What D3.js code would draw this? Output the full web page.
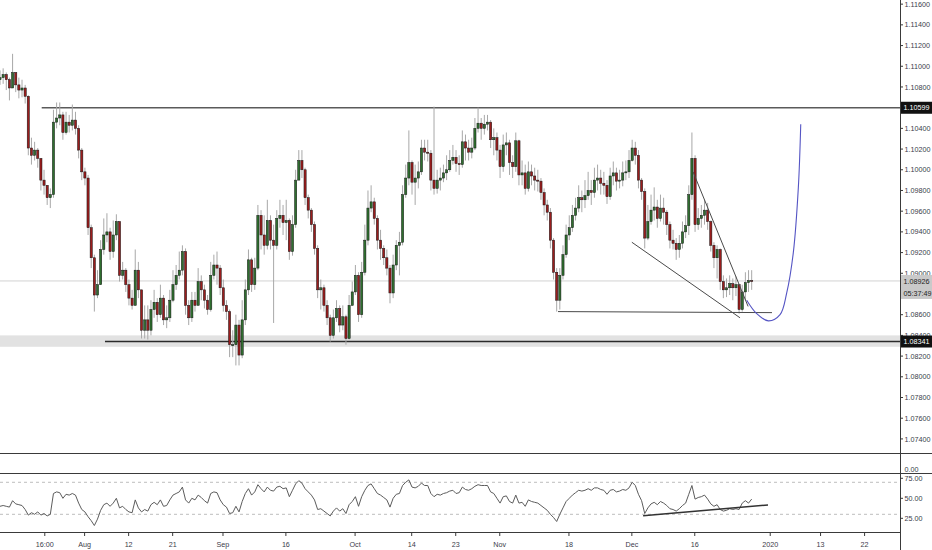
<!DOCTYPE html>
<html><head><meta charset="utf-8">
<script src="https://cdn.jsdelivr.net/npm/d3@7"></script>
<style>html,body{margin:0;padding:0;background:#fff;overflow:hidden}svg{display:block;font-family:"Liberation Sans",Arial,sans-serif}</style>
</head><body><svg id="c" width="932" height="550"></svg>
<script>
// ---- data (EUR/USD-like bars, 2 bars per trading day) ----
const firstOpen = 1.1087;
const closes = [
1.1089,1.1092,1.1087,1.1079,1.1094,1.1082,1.1077,1.1079,1.1071,1.1021,
1.1014,1.1019,1.1011,1.0990,1.0985,1.0973,1.0976,1.1046,1.1050,1.1053,
1.1036,1.1046,1.1043,1.1048,1.1040,1.1019,1.0998,1.0992,1.0944,1.0915,
1.0879,1.0889,1.0923,1.0937,1.0940,1.0921,1.0937,1.0950,1.0898,1.0903,
1.0889,1.0876,1.0869,1.0903,1.0884,1.0845,1.0855,1.0845,1.0865,1.0872,
1.0860,1.0876,1.0855,1.0857,1.0874,1.0889,1.0898,1.0903,1.0921,1.0869,
1.0857,1.0874,1.0869,1.0892,1.0884,1.0874,1.0865,1.0898,1.0908,1.0905,
1.0886,1.0869,1.0863,1.0831,1.0831,1.0850,1.0821,1.0855,1.0884,1.0913,
1.0889,1.0905,1.0956,1.0937,1.0927,1.0951,1.0932,1.0927,1.0953,1.0956,
1.0949,1.0951,1.0921,1.0947,1.0990,1.1009,1.1000,1.0973,1.0961,1.0947,
1.0924,1.0884,1.0886,1.0869,1.0857,1.0840,1.0857,1.0866,1.0850,1.0858,
1.0837,1.0869,1.0882,1.0898,1.0860,1.0901,1.0932,1.0963,1.0969,1.0953,
1.0932,1.0924,1.0915,1.0905,1.0881,1.0908,1.0927,1.0930,1.0976,1.0992,
1.1007,1.0988,1.0992,1.0998,1.1021,1.1017,1.1016,1.0990,1.0982,1.0990,
1.0992,1.0997,1.1000,1.1009,1.1012,1.1006,1.1005,1.1027,1.1021,1.1017,
1.1021,1.1040,1.1045,1.1040,1.1044,1.1046,1.1029,1.1031,1.1019,1.1003,
1.1024,1.1026,1.1007,1.1003,1.1028,1.0995,1.0997,1.0982,1.0998,1.0994,
1.0990,1.0989,1.0978,1.0966,1.0959,1.0932,1.0901,1.0874,1.0898,1.0918,
1.0937,1.0944,1.0956,1.0963,1.0973,1.0971,1.0975,1.0980,1.0978,1.0990,
1.0992,1.0987,1.0985,1.0974,1.0994,1.0997,1.0989,1.0990,1.0997,1.0998,
1.1009,1.1021,1.1014,1.0990,1.0979,1.0934,1.0950,1.0961,1.0964,1.0953,
1.0963,1.0959,1.0947,1.0932,1.0929,1.0923,1.0929,1.0940,1.0946,1.0976,
1.1011,1.0947,1.0953,1.0956,1.0961,1.0950,1.0927,1.0915,1.0923,1.0892,
1.0884,1.0886,1.0890,1.0886,1.0889,1.0865,1.0882,1.0891,1.0893,1.08926];
const highs = [
1.1096,1.1098,1.1094,1.1089,1.1112,1.1093,1.1089,1.1087,1.1082,1.1072,
1.1031,1.1027,1.1021,1.1005,1.1000,1.0985,1.0982,1.1058,1.1065,1.1065,
1.1056,1.1056,1.1053,1.1063,1.1056,1.1043,1.1021,1.1002,1.0995,1.0947,
1.0918,1.0903,1.0932,1.0953,1.0958,1.0944,1.0951,1.0957,1.0950,1.0911,
1.0905,1.0894,1.0884,1.0923,1.0911,1.0884,1.0869,1.0869,1.0874,1.0884,
1.0876,1.0889,1.0879,1.0869,1.0884,1.0903,1.0908,1.0921,1.0927,1.0924,
1.0874,1.0882,1.0882,1.0905,1.0898,1.0889,1.0879,1.0911,1.0918,1.0921,
1.0908,1.0894,1.0874,1.0865,1.0845,1.0860,1.0855,1.0874,1.0894,1.0923,
1.0915,1.0915,1.0966,1.0961,1.0956,1.0971,1.0956,1.0947,1.0961,1.0971,
1.0966,1.0971,1.0953,1.0956,1.1000,1.1019,1.1019,1.1002,1.0976,1.0963,
1.0950,1.0927,1.0894,1.0889,1.0874,1.0860,1.0865,1.0874,1.0869,1.0869,
1.0860,1.0879,1.0892,1.0908,1.0901,1.0911,1.0947,1.0980,1.0985,1.0973,
1.0956,1.0942,1.0927,1.0923,1.0908,1.0918,1.0932,1.0940,1.0985,1.1005,
1.1038,1.1009,1.1005,1.1008,1.1029,1.1029,1.1029,1.1019,1.1061,1.1000,
1.1002,1.1005,1.1014,1.1019,1.1024,1.1019,1.1014,1.1038,1.1034,1.1029,
1.1031,1.1050,1.1060,1.1050,1.1053,1.1053,1.1048,1.1040,1.1036,1.1024,
1.1034,1.1036,1.1029,1.1014,1.1036,1.1029,1.1009,1.1005,1.1008,1.1005,
1.1002,1.1000,1.0992,1.0982,1.0971,1.0963,1.0934,1.0905,1.0905,1.0927,
1.0947,1.0956,1.0966,1.0973,1.0985,1.0980,1.0990,1.0998,1.0990,1.1002,
1.1005,1.1000,1.0998,1.0990,1.1002,1.1008,1.1002,1.1000,1.1008,1.1009,
1.1019,1.1029,1.1027,1.1019,1.0992,1.0982,1.0966,1.0976,1.0983,1.0971,
1.0976,1.0973,1.0961,1.0950,1.0942,1.0934,1.0937,1.0950,1.0956,1.0985,
1.1036,1.1014,1.0963,1.0966,1.0971,1.0968,1.0951,1.0930,1.0927,1.0924,
1.0898,1.0895,1.0898,1.0895,1.0897,1.0889,1.0889,1.0901,1.0903,1.0903];
const lows = [
1.1082,1.1083,1.1077,1.1067,1.1085,1.1075,1.1069,1.1070,1.1064,1.1014,
1.1005,1.1009,1.1002,1.0980,1.0976,1.0966,1.0963,1.0973,1.1040,1.1043,
1.1029,1.1034,1.1036,1.1038,1.1034,1.1011,1.0990,1.0985,1.0937,1.0905,
1.0863,1.0876,1.0889,1.0918,1.0930,1.0913,1.0915,1.0932,1.0892,1.0894,
1.0882,1.0869,1.0865,1.0869,1.0876,1.0837,1.0837,1.0836,1.0840,1.0857,
1.0853,1.0857,1.0850,1.0847,1.0853,1.0872,1.0884,1.0894,1.0898,1.0860,
1.0850,1.0853,1.0863,1.0869,1.0874,1.0866,1.0860,1.0863,1.0894,1.0889,
1.0879,1.0863,1.0855,1.0819,1.0819,1.0811,1.0811,1.0818,1.0850,1.0879,
1.0882,1.0884,1.0903,1.0923,1.0918,1.0923,1.0923,1.0852,1.0923,1.0944,
1.0937,1.0932,1.0913,1.0917,1.0944,1.0992,1.0992,1.0966,1.0953,1.0940,
1.0918,1.0876,1.0865,1.0863,1.0850,1.0834,1.0837,1.0853,1.0843,1.0845,
1.0831,1.0836,1.0869,1.0879,1.0853,1.0857,1.0898,1.0927,1.0959,1.0947,
1.0923,1.0913,1.0908,1.0898,1.0871,1.0876,1.0903,1.0898,1.0927,1.0973,
1.0985,1.0976,1.0966,1.0982,1.0995,1.1009,1.1008,1.0980,1.0976,1.0977,
1.0980,1.0988,1.0990,1.0998,1.1005,1.0998,1.0995,1.1002,1.1009,1.1009,
1.1011,1.1019,1.1036,1.1029,1.1034,1.1038,1.1021,1.1014,1.1009,1.0992,
1.0998,1.1014,1.0995,1.0992,1.0998,1.0985,1.0985,1.0976,1.0979,1.0985,
1.0980,1.0979,1.0971,1.0956,1.0951,1.0924,1.0894,1.0863,1.0865,1.0894,
1.0915,1.0932,1.0940,1.0951,1.0959,1.0959,1.0963,1.0971,1.0966,1.0973,
1.0980,1.0976,1.0976,1.0967,1.0971,1.0985,1.0980,1.0982,1.0984,1.0990,
1.0992,1.1008,1.1005,1.0982,1.0971,1.0924,1.0932,1.0947,1.0951,1.0944,
1.0950,1.0947,1.0937,1.0924,1.0923,1.0913,1.0915,1.0924,1.0934,1.0937,
1.0971,1.0940,1.0942,1.0944,1.0947,1.0942,1.0921,1.0905,1.0895,1.0884,
1.0876,1.0877,1.0879,1.0874,1.0878,1.0861,1.0863,1.0874,1.0882,1.0884];
const rsi = [
40,41,40,39,47,43,42,41,36,29, 32,30,33,29,31,28,30,56,58,57,
50,55,54,56,54,44,36,33,27,22, 16,24,35,42,44,40,44,50,38,40,
36,33,32,48,38,33,36,34,42,45, 42,48,40,41,48,54,56,58,64,48,
44,50,48,54,51,47,44,56,58,57, 48,42,39,31,32,40,33,46,56,62,
54,58,67,62,58,64,60,59,64,65, 62,63,52,60,68,72,69,62,58,54,
48,36,37,34,31,28,34,38,34,37, 31,42,46,52,40,52,60,66,68,62,
56,54,51,48,39,50,55,56,66,70, 73,64,63,65,69,66,66,56,52,55,
54,56,57,59,60,56,57,64,61,60, 62,65,67,66,66,66,58,56,50,44,
52,53,46,44,54,44,45,40,48,46, 45,44,41,38,35,30,26,21,30,38,
46,50,54,57,60,59,60,62,60,63, 63,61,60,55,60,61,58,59,61,60,
63,70,66,55,47,31,38,43,45,42, 46,44,41,37,36,34,37,41,44,55,
66,49,51,52,54,49,43,40,42,36, 34,35,37,36,37,36,44,47,44,49];
// bar timing in trading days since 1 Aug 2019
const startDay = -13.45, barStep = 0.5;
// axis labels
const priceTickLabels = ["1.11600","1.11400","1.11200","1.11000","1.10800","1.10600","1.10400","1.10200","1.10000","1.09800","1.09600","1.09400","1.09200","1.09000","1.08800","1.08600","1.08400","1.08200","1.08000","1.07800","1.07600","1.07400"];
const dateLabels = ["16:00","Aug","12","21","Sep","16","Oct","14","23","Nov","18","Dec","16","2020","13","22"];
const dateDays   = [-6.33,0,7,14,22,32,43,52,59,66,77,87,97,109,117,124];
const rsiTickLabels = ["75.00","50.00","25.00"];
const rsiBands = [70,30];
// drawings
const resistance = {price:1.10599, fromDay:-6.82};
const support = {price:1.08341, fromDay:3.24};
const zoneBand = [1.0829, 1.0840];
const lastPrice = 1.08926, countdown = "05:37:49";
const trendLines = [
  [[75.26,1.0863],[109.28,1.0862]],
  [[87.0,1.0930],[104.2,1.0857]],
  [[96.73,1.0998],[105.48,1.0868]]
];
const projection = [[105.26,1.0874],[106.85,1.0861],[108.70,1.0854],[110.56,1.0860],[111.62,1.0881],[112.67,1.0920],[113.47,1.0983],[113.85,1.1044]];
const rsiTrend = [[88.79,28.3],[108.65,41.7]];

// ---- layout ----
const svg = d3.select("#c");
const AX = 900, PB = 453, MB = 473, RB = 532;
const x = d3.scaleLinear().domain([-13.45,129.63]).range([0,AX]);
const y = d3.scaleLinear().domain([1.07264,1.1164]).range([PB,0]);
const yr = d3.scaleLinear().domain([7.9,81.6]).range([RB,MB]);

const defs = svg.append("defs");
defs.append("clipPath").attr("id","pc").append("rect").attr("x",0).attr("y",0).attr("width",AX).attr("height",PB);
defs.append("clipPath").attr("id","rc").append("rect").attr("x",0).attr("y",MB).attr("width",AX).attr("height",RB-MB);

const pg = svg.append("g").attr("clip-path","url(#pc)");
pg.append("rect").attr("x",0).attr("width",AX)
  .attr("y",y(zoneBand[1])).attr("height",y(zoneBand[0])-y(zoneBand[1])).attr("fill","#e2e2e2");
pg.append("line").attr("x1",0).attr("x2",AX).attr("y1",y(lastPrice)).attr("y2",y(lastPrice))
  .attr("stroke","#d2d2d2").attr("stroke-width",1);
pg.append("line").attr("x1",x(resistance.fromDay)).attr("x2",AX).attr("y1",y(resistance.price)).attr("y2",y(resistance.price))
  .attr("stroke","#5a5a5a").attr("stroke-width",1.3);
pg.append("line").attr("x1",x(support.fromDay)).attr("x2",AX).attr("y1",y(support.price)).attr("y2",y(support.price))
  .attr("stroke","#2a2a2a").attr("stroke-width",1.3);

// candles
const candles = closes.map((c,i)=>({d:startDay+i*barStep,o:i?closes[i-1]:firstOpen,c,h:highs[i],l:lows[i]}));
pg.append("g").selectAll("line").data(candles).join("line")
  .attr("x1",d=>x(d.d)).attr("x2",d=>x(d.d))
  .attr("y1",d=>y(Math.max(d.h,d.o,d.c))).attr("y2",d=>y(Math.min(d.l,d.o,d.c)))
  .attr("stroke","#a8a8a8").attr("stroke-width",1);
pg.append("g").selectAll("rect").data(candles).join("rect")
  .attr("x",d=>x(d.d)-1.1).attr("width",2.2)
  .attr("y",d=>y(Math.max(d.o,d.c)))
  .attr("height",d=>Math.max(1,Math.abs(y(d.o)-y(d.c))))
  .attr("fill",d=>d.c>=d.o?"#2f6f2f":"#9a1d1d")
  .attr("stroke","#151515").attr("stroke-width",0.5);

// trend lines
const tl = d3.line().x(d=>x(d[0])).y(d=>y(d[1]));
trendLines.forEach(t=>pg.append("path").attr("d",tl(t)).attr("fill","none").attr("stroke","#4a4a4a").attr("stroke-width",1));
pg.append("path").attr("d",d3.line().x(d=>x(d[0])).y(d=>y(d[1])).curve(d3.curveCatmullRom)(projection))
  .attr("fill","none").attr("stroke","#5555c4").attr("stroke-width",1.1);

// pane separators
[PB,MB].forEach(v=>svg.append("line").attr("x1",0).attr("x2",932).attr("y1",v+0.5).attr("y2",v+0.5).attr("stroke","#3a3a3a").attr("stroke-width",1));
svg.append("line").attr("x1",0).attr("x2",AX).attr("y1",RB+0.5).attr("y2",RB+0.5).attr("stroke","#3a3a3a").attr("stroke-width",1);

// RSI pane
const rg = svg.append("g").attr("clip-path","url(#rc)");
rsiBands.forEach(v=>rg.append("line").attr("x1",0).attr("x2",AX).attr("y1",yr(v)).attr("y2",yr(v))
  .attr("stroke","#bdbdbd").attr("stroke-dasharray","3,3").attr("stroke-width",1));
rg.append("path").datum(rsi).attr("d",d3.line().x((d,i)=>x(startDay+i*barStep)).y(d=>yr(d)))
  .attr("fill","none").attr("stroke","#5c5c5c").attr("stroke-width",1);
rg.append("path").attr("d",d3.line().x(d=>x(d[0])).y(d=>yr(d[1]))(rsiTrend))
  .attr("fill","none").attr("stroke","#333").attr("stroke-width",1.5);

// right axis
svg.append("line").attr("x1",AX+0.5).attr("x2",AX+0.5).attr("y1",0).attr("y2",550).attr("stroke","#3a3a3a");
const fs = 7.2, tc = "#3b3b4a";
const pt = svg.append("g");
priceTickLabels.forEach(lbl=>{
  const yy = y(+lbl);
  pt.append("line").attr("x1",AX).attr("x2",AX+3).attr("y1",yy).attr("y2",yy).attr("stroke","#3a3a3a");
  pt.append("text").attr("x",AX+4.5).attr("y",yy+2.6).attr("font-size",fs).attr("fill",tc).text(lbl);
});
rsiTickLabels.forEach(lbl=>{
  const yy = yr(+lbl);
  svg.append("line").attr("x1",AX).attr("x2",AX+3).attr("y1",yy).attr("y2",yy).attr("stroke","#3a3a3a");
  svg.append("text").attr("x",AX+4.5).attr("y",yy+2.6).attr("font-size",fs).attr("fill",tc).text(lbl);
});
svg.append("text").attr("x",AX+4.5).attr("y",MB-1.5).attr("font-size",fs).attr("fill",tc).text("0.00");

// price label boxes
function box(price,txt,bg,fg,dy){
  const yy = y(price)+(dy||0);
  svg.append("rect").attr("x",AX+1).attr("y",yy-6).attr("width",31).attr("height",12).attr("fill",bg);
  svg.append("text").attr("x",AX+3.5).attr("y",yy+2.6).attr("font-size",fs).attr("fill",fg).text(txt);
}
box(resistance.price,d3.format(".5f")(resistance.price),"#111","#fff");
box(lastPrice,d3.format(".5f")(lastPrice),"#c9c9c9","#222");
box(lastPrice,countdown,"#c9c9c9","#222",12);
box(support.price,d3.format(".5f")(support.price),"#111","#fff");

// date axis
dateLabels.forEach((lbl,i)=>{
  const xx = x(dateDays[i]);
  svg.append("line").attr("x1",xx).attr("x2",xx).attr("y1",RB).attr("y2",RB+4).attr("stroke","#3a3a3a");
  svg.append("text").attr("x",xx).attr("y",RB+15).attr("text-anchor","middle").attr("font-size",fs).attr("fill",tc).text(lbl);
});
</script></body></html>
